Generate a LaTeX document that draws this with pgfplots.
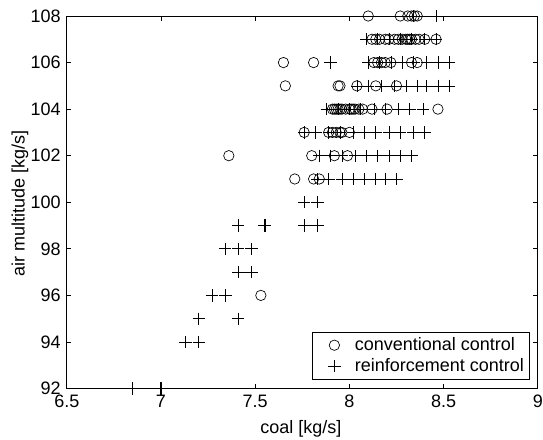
\documentclass[border=0pt]{standalone}
\usepackage{fontspec}
\setmainfont{Liberation Sans}
\usepackage{pgfplots}
\pgfplotsset{compat=1.18}
\pgfplotsset{markonly legend/.style={legend image code/.code={%
    \path[draw=none, fill=none] (0pt,0pt) -- (27.6pt,0pt);
    \draw[##1] plot coordinates {(14.2pt,0pt)};}}}

% conventional control (circles), one row per air value
\pgfplotstableread{
x y
8.10 108
8.27 108
8.31 108
8.33 108
8.345 108
8.36 108
8.12 107
8.14 107
8.16 107
8.19 107
8.21 107
8.24 107
8.26 107
8.28 107
8.30 107
8.31 107
8.32 107
8.33 107
8.35 107
8.37 107
8.40 107
8.46 107
7.65 106
7.81 106
8.13 106
8.15 106
8.17 106
8.19 106
8.22 106
8.33 106
8.36 106
7.66 105
7.94 105
7.95 105
8.04 105
8.14 105
8.25 105
7.91 104
7.92 104
7.93 104
7.94 104
7.95 104
7.96 104
7.98 104
8.00 104
8.01 104
8.02 104
8.03 104
8.05 104
8.07 104
8.12 104
8.20 104
8.47 104
7.76 103
7.89 103
7.91 103
7.93 103
7.95 103
7.96 103
8.00 103
7.36 102
7.80 102
7.92 102
7.99 102
7.71 101
7.81 101
7.84 101
7.53 96
}\conventional

% reinforcement control (crosses)
\pgfplotstableread{
x y
8.34 108
8.46 108
8.09 107
8.15 107
8.21 107
8.27 107
8.33 107
8.40 107
8.46 107
7.90 106
8.10 106
8.16 106
8.22 106
8.28 106
8.34 106
8.41 106
8.47 106
8.53 106
8.04 105
8.10 105
8.17 105
8.24 105
8.30 105
8.36 105
8.41 105
8.47 105
8.53 105
7.88 104
7.94 104
8.00 104
8.06 104
8.13 104
8.19 104
8.26 104
8.32 104
8.39 104
7.76 103
7.82 103
7.89 103
7.95 103
8.02 103
8.08 103
8.14 103
8.21 103
8.27 103
8.34 103
8.40 103
7.84 102
7.90 102
7.96 102
8.03 102
8.09 102
8.15 102
8.21 102
8.27 102
8.33 102
7.83 101
7.89 101
7.96 101
8.02 101
8.08 101
8.14 101
8.19 101
8.25 101
7.76 100
7.83 100
7.41 99
7.55 99
7.553 99
7.76 99
7.763 99
7.83 99
7.34 98
7.41 98
7.48 98
7.41 97
7.413 97
7.48 97
7.27 96
7.34 96
7.343 96
7.20 95
7.41 95
7.13 94
7.20 94
6.85 92
6.997 92
7.00 92
}\reinforcement

\begin{document}
\fontsize{13.5}{16}\selectfont
\begin{tikzpicture}
\begin{axis}[
    name=ax,
    scale only axis,
    width=353.25pt, height=279.4pt,
    xmin=6.5, xmax=9, ymin=92, ymax=108,
    xtick={6.5,7,7.5,8,8.5,9},
    ytick={92,94,...,108},
    tick align=inside,
    major tick length=3.5pt,
    axis line style={line width=0.7pt},
    tick style={line width=0.5pt, black},
    /pgf/number format/assume math mode=true,
    every tick label/.append style={font=\fontsize{13.5}{16}\selectfont},
    xlabel={coal [kg/s]},
    ylabel={air multitude [kg/s]},
    xlabel style={at={(axis description cs:0.497,-0.1085)}, anchor=center},
    ylabel style={at={(axis description cs:-0.0994,0.498)}, anchor=center},
    clip=false,
    legend style={
        at={(axis description cs:0.983,0.023)}, anchor=south east,
        draw=black, line width=0.7pt,
        font=\fontsize{13.5}{16}\selectfont,
        cells={anchor=west}, row sep=0pt,
        inner xsep=2pt, inner ysep=2pt
    },
]
\addplot[only marks, mark=o, mark size=3.9pt, line width=0.5pt, black,
    markonly legend]
    table {\conventional};
\addlegendentry{conventional control}
\addplot[only marks, mark=+, mark size=4.6pt, line width=0.5pt, black,
    markonly legend]
    table {\reinforcement};
\addlegendentry{reinforcement control}
\end{axis}
\pgfresetboundingbox
\path[use as bounding box] ([xshift=-50.1pt,yshift=-37.9pt]ax.south west)
    rectangle ([xshift=3.9pt,yshift=12pt]ax.north east);
\end{tikzpicture}
\end{document}
